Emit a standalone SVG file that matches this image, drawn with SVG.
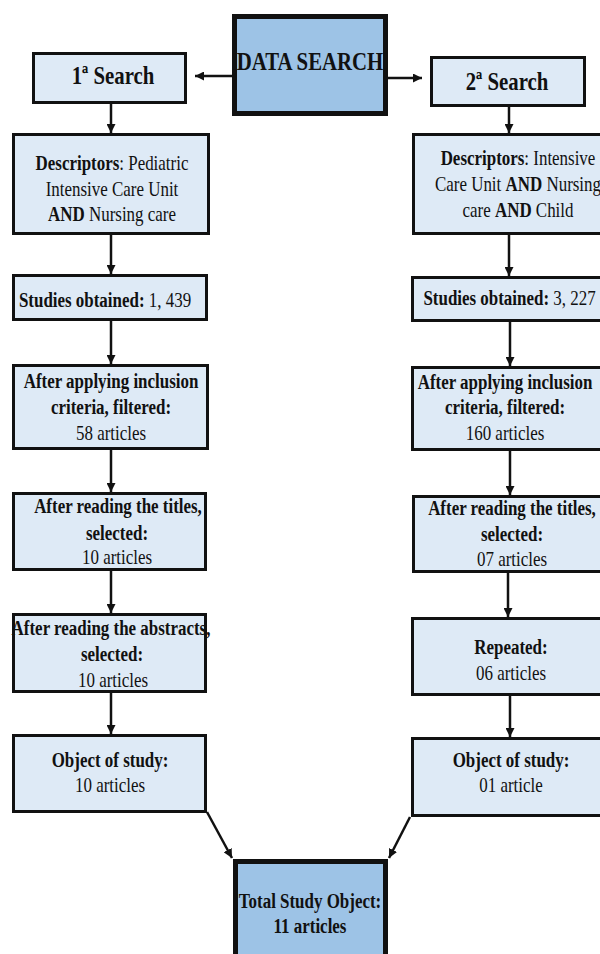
<svg xmlns="http://www.w3.org/2000/svg" width="600" height="954" viewBox="0 0 600 954">
<defs>
<style>
.bx{fill:#DEEAF6;stroke:#111;stroke-width:3}
.bb{fill:#9DC3E6;stroke:#111;stroke-width:5}
.c line{stroke:#111;stroke-width:2.5;marker-end:url(#ah)}
text{font-family:"Liberation Serif","Times New Roman",serif;font-size:22px;fill:#111;text-anchor:middle}
.t{font-size:26px;font-weight:bold}
.b{font-weight:bold}
</style>
<marker id="ah" viewBox="0 0 8 8" markerUnits="userSpaceOnUse" markerWidth="9" markerHeight="9" refX="8" refY="4" orient="auto"><path d="M0,0 L8,4 L0,8 z" fill="#111"/></marker>
</defs>
<rect width="600" height="954" fill="#fff"/>
<g class="c">
<line x1="232" y1="76" x2="195" y2="76"/>
<line x1="388" y1="78" x2="422" y2="78"/>
<line x1="111" y1="104" x2="111" y2="133"/>
<line x1="111" y1="235" x2="111" y2="274"/>
<line x1="111" y1="321" x2="111" y2="364"/>
<line x1="111" y1="450" x2="111" y2="492"/>
<line x1="111" y1="571" x2="111" y2="613"/>
<line x1="111" y1="693" x2="111" y2="734"/>
<line x1="207" y1="812" x2="232" y2="858"/>
<line x1="509" y1="107" x2="509" y2="133"/>
<line x1="509" y1="235" x2="509" y2="276"/>
<line x1="510" y1="322" x2="510" y2="366"/>
<line x1="510" y1="451" x2="510" y2="495"/>
<line x1="508" y1="573" x2="508" y2="617"/>
<line x1="510" y1="696" x2="510" y2="737"/>
<line x1="410" y1="817" x2="389" y2="858"/>
</g>
<g id="data"><rect class="bb" x="234.5" y="16.5" width="151" height="97"/>
<text class="t" transform="translate(310,70) scale(0.8,1)">DATA SEARCH</text></g>
<g id="s1"><rect class="bx" x="33.5" y="53.5" width="152" height="49"/>
<text class="t" transform="translate(113,84) scale(0.8,1)">1ª Search</text></g>
<g id="s2"><rect class="bx" x="431.5" y="57.5" width="153" height="48"/>
<text class="t" transform="translate(507,90) scale(0.8,1)">2ª Search</text></g>
<g id="d1"><rect class="bx" x="13.5" y="134.5" width="195" height="99"/>
<text transform="translate(112,170) scale(0.77,1)"><tspan class="b">Descriptors</tspan>: Pediatric</text>
<text transform="translate(112,196) scale(0.77,1)">Intensive Care Unit</text>
<text transform="translate(112,221) scale(0.77,1)"><tspan class="b">AND</tspan> Nursing care</text></g>
<g id="d2"><rect class="bx" x="413.5" y="134.5" width="210" height="99"/>
<text transform="translate(518,165) scale(0.77,1)"><tspan class="b">Descriptors</tspan>: Intensive</text>
<text transform="translate(518,191) scale(0.77,1)">Care Unit <tspan class="b">AND</tspan> Nursing</text>
<text transform="translate(518,217) scale(0.77,1)">care <tspan class="b">AND</tspan> Child</text></g>
<g id="st1"><rect class="bx" x="13.5" y="275.5" width="193" height="44"/>
<text transform="translate(105,307) scale(0.77,1)"><tspan class="b">Studies obtained:</tspan> 1, 439</text></g>
<g id="st2"><rect class="bx" x="412.5" y="277.5" width="210" height="43"/>
<text transform="translate(509.5,305) scale(0.77,1)"><tspan class="b">Studies obtained:</tspan> 3, 227</text></g>
<g id="in1"><rect class="bx" x="13.5" y="365.5" width="194" height="83"/>
<text class="b" transform="translate(111,388) scale(0.77,1)">After applying inclusion</text>
<text class="b" transform="translate(111,414) scale(0.77,1)">criteria, filtered:</text>
<text transform="translate(111,440) scale(0.77,1)">58 articles</text></g>
<g id="in2"><rect class="bx" x="412.5" y="367.5" width="210" height="82"/>
<text class="b" transform="translate(505,389) scale(0.77,1)">After applying inclusion</text>
<text class="b" transform="translate(505,414) scale(0.77,1)">criteria, filtered:</text>
<text transform="translate(505,440) scale(0.77,1)">160 articles</text></g>
<g id="ti1"><rect class="bx" x="13.5" y="493.5" width="192" height="76"/>
<text class="b" transform="translate(118,513) scale(0.77,1)">After reading the titles,</text>
<text class="b" transform="translate(117,540) scale(0.77,1)">selected:</text>
<text transform="translate(117,564) scale(0.77,1)">10 articles</text></g>
<g id="ti2"><rect class="bx" x="413.5" y="496.5" width="210" height="75"/>
<text class="b" transform="translate(512,515) scale(0.77,1)">After reading the titles,</text>
<text class="b" transform="translate(512,541) scale(0.77,1)">selected:</text>
<text transform="translate(512,566) scale(0.77,1)">07 articles</text></g>
<g id="ab1"><rect class="bx" x="13.5" y="614.5" width="192" height="77"/>
<text class="b" transform="translate(111,635) scale(0.77,1)">After reading the abstracts,</text>
<text class="b" transform="translate(112,661) scale(0.77,1)">selected:</text>
<text transform="translate(113,687) scale(0.77,1)">10 articles</text></g>
<g id="rp2"><rect class="bx" x="412.5" y="618.5" width="210" height="76"/>
<text class="b" transform="translate(511,654) scale(0.77,1)">Repeated:</text>
<text transform="translate(511,680) scale(0.77,1)">06 articles</text></g>
<g id="ob1"><rect class="bx" x="13.5" y="735.5" width="192" height="76"/>
<text class="b" transform="translate(110,767) scale(0.77,1)">Object of study:</text>
<text transform="translate(110,792) scale(0.77,1)">10 articles</text></g>
<g id="ob2"><rect class="bx" x="412.5" y="738.5" width="210" height="77"/>
<text class="b" transform="translate(511,767) scale(0.77,1)">Object of study:</text>
<text transform="translate(511,792) scale(0.77,1)">01 article</text></g>
<g id="total"><rect class="bb" x="235.5" y="861.5" width="150" height="110"/>
<text class="b" transform="translate(310,908) scale(0.77,1)">Total Study Object:</text>
<text class="b" transform="translate(310,933) scale(0.77,1)">11 articles</text></g>
</svg>
